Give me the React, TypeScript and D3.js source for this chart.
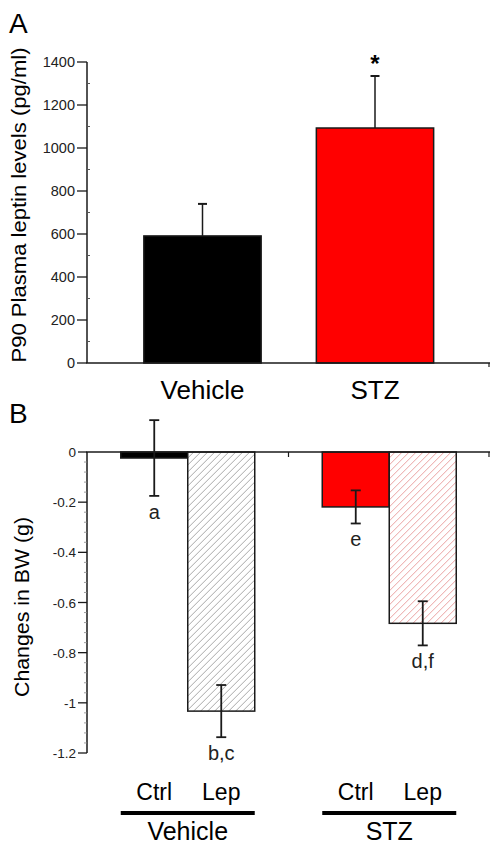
import React from "react";
import * as d3 from "d3";

// Panel A data
const groupsA = ["Vehicle", "STZ"];
const leptinMean = [591, 1093];
const leptinErr = [149, 242];
const leptinColors = ["#000000", "#ff0000"];
const yTicksA = [0, 200, 400, 600, 800, 1000, 1200, 1400];

// Panel B data
const groupsB = ["Vehicle", "STZ"];
const treatments = ["Ctrl", "Lep"];
const bwMean = [
  [-0.024, -1.033],
  [-0.219, -0.683],
];
const bwErr = [
  [0.151, 0.104],
  [0.066, 0.088],
];
const bwLetters = [
  ["a", "b,c"],
  ["e", "d,f"],
];
const yTicksB = [0, -0.2, -0.4, -0.6, -0.8, -1, -1.2];
const yTickLabelsB = ["0", "-0.2", "-0.4", "-0.6", "-0.8", "-1", "-1.2"];

const FONT = "'Liberation Sans', Arial, Helvetica, sans-serif";
const AX = "#1a1a1a";

export default function App() {
  const W = 490;
  const H = 846;
  const axisX = 87;
  const xEnd = 490;

  // Panel A scales
  const yA = d3.scaleLinear().domain([0, 1400]).range([363, 62]);
  const xA = d3
    .scaleBand<string>()
    .domain(groupsA)
    .range([116.25, 461.25])
    .paddingInner(0.32)
    .paddingOuter(0.16);
  const minorA = d3.range(100, 1400, 200);

  // Panel B scales
  const yB = d3.scaleLinear().domain([-1.2, 0]).range([753, 452]);
  const xB = d3
    .scaleBand<string>()
    .domain(groupsB)
    .range([axisX, xEnd])
    .paddingInner(0.335)
    .paddingOuter(0.1675);
  const xSub = d3
    .scaleBand<string>()
    .domain(treatments)
    .range([0, xB.bandwidth()]);
  const minorB = d3
    .range(0, 31)
    .map((i) => -i * 0.04)
    .filter((v) => Math.abs(Math.round(v / 0.2) * 0.2 - v) > 1e-6);

  const fills = [
    ["#000000", "url(#hatchGrey)"],
    ["#ff0000", "url(#hatchRed)"],
  ];

  return (
    <svg
      width={W}
      height={H}
      style={{ position: "absolute", left: 0, top: 0, background: "#fff" }}
      fontFamily={FONT}
    >
      <defs>
        <pattern id="hatchGrey" patternUnits="userSpaceOnUse" width={7} height={7}>
          <rect width={7} height={7} fill="#fff" />
          <path d="M0,7 L7,0 M-2,2 L2,-2 M5,9 L9,5" stroke="#a8a8a8" strokeWidth={1} />
        </pattern>
        <pattern id="hatchRed" patternUnits="userSpaceOnUse" width={7} height={7}>
          <rect width={7} height={7} fill="#fff" />
          <path d="M0,7 L7,0 M-2,2 L2,-2 M5,9 L9,5" stroke="#eaa2a2" strokeWidth={1} />
        </pattern>
      </defs>
      <rect width={W} height={H} fill="#fff" />

      {/* ===== Panel A ===== */}
      <text x={9} y={33} fontSize={28}>A</text>
      <text
        transform={`translate(26,205) rotate(-90)`}
        textAnchor="middle"
        fontSize={21}
        textLength={315}
        lengthAdjust="spacingAndGlyphs"
      >
        P90 Plasma leptin levels (pg/ml)
      </text>

      {/* bars */}
      {groupsA.map((g, i) => (
        <g key={g}>
          <line
            x1={xA(g)! + xA.bandwidth() / 2}
            x2={xA(g)! + xA.bandwidth() / 2}
            y1={yA(leptinMean[i])}
            y2={yA(leptinMean[i] + leptinErr[i])}
            stroke={AX}
            strokeWidth={1.5}
          />
          <line
            x1={xA(g)! + xA.bandwidth() / 2 - 4.5}
            x2={xA(g)! + xA.bandwidth() / 2 + 4.5}
            y1={yA(leptinMean[i] + leptinErr[i])}
            y2={yA(leptinMean[i] + leptinErr[i])}
            stroke={AX}
            strokeWidth={2}
          />
          <rect
            x={xA(g)!}
            y={yA(leptinMean[i])}
            width={xA.bandwidth()}
            height={yA(0) - yA(leptinMean[i])}
            fill={leptinColors[i]}
            stroke={AX}
            strokeWidth={1.5}
          />
          <text
            x={xA(g)! + xA.bandwidth() / 2}
            y={399}
            textAnchor="middle"
            fontSize={26}
          >
            {g}
          </text>
        </g>
      ))}
      <text
        x={xA("STZ")! + xA.bandwidth() / 2}
        y={72}
        textAnchor="middle"
        fontSize={24}
        fontWeight="bold"
      >
        *
      </text>

      {/* axes A */}
      <line x1={axisX} x2={axisX} y1={yA(1400)} y2={yA(0)} stroke={AX} strokeWidth={1.5} />
      <line x1={axisX - 0.75} x2={xEnd} y1={yA(0)} y2={yA(0)} stroke={AX} strokeWidth={1.5} />
      <line x1={xEnd - 1} x2={xEnd - 1} y1={yA(0)} y2={yA(0) + 4} stroke={AX} strokeWidth={1.2} />
      {yTicksA.map((t) => (
        <g key={t}>
          <line x1={axisX - 10} x2={axisX} y1={yA(t)} y2={yA(t)} stroke={AX} strokeWidth={1.3} />
          <text x={axisX - 12} y={yA(t) + 5} textAnchor="end" fontSize={14.5} fill="#222">
            {t}
          </text>
        </g>
      ))}
      {minorA.map((t) => (
        <line key={t} x1={axisX} x2={axisX + 3} y1={yA(t)} y2={yA(t)} stroke="#555" strokeWidth={1} />
      ))}

      {/* ===== Panel B ===== */}
      <text x={9} y={423} fontSize={28}>B</text>
      <text
        transform={`translate(29,607) rotate(-90)`}
        textAnchor="middle"
        fontSize={21}
        textLength={180}
        lengthAdjust="spacingAndGlyphs"
      >
        Changes in BW (g)
      </text>

      {groupsB.map((g, gi) => (
        <g key={g} transform={`translate(${xB(g)},0)`}>
          {treatments.map((t, ti) => {
            const m = bwMean[gi][ti];
            const e = bwErr[gi][ti];
            const cx = xSub(t)! + xSub.bandwidth() / 2;
            return (
              <g key={t}>
                <rect
                  x={xSub(t)!}
                  y={yB(0)}
                  width={xSub.bandwidth()}
                  height={yB(m) - yB(0)}
                  fill={fills[gi][ti]}
                  stroke={AX}
                  strokeWidth={1.5}
                />
                <line x1={cx} x2={cx} y1={yB(m + e)} y2={yB(m - e)} stroke={AX} strokeWidth={1.8} />
                <line x1={cx - 5} x2={cx + 5} y1={yB(m + e)} y2={yB(m + e)} stroke={AX} strokeWidth={1.8} />
                <line x1={cx - 5} x2={cx + 5} y1={yB(m - e)} y2={yB(m - e)} stroke={AX} strokeWidth={1.8} />
                <text x={cx} y={yB(m - e) + 23} textAnchor="middle" fontSize={20} fill="#222">
                  {bwLetters[gi][ti]}
                </text>
                <text x={cx} y={800} textAnchor="middle" fontSize={23}>
                  {t}
                </text>
              </g>
            );
          })}
          <line x1={0} x2={xB.bandwidth()} y1={813} y2={813} stroke="#000" strokeWidth={4} />
          <text x={xB.bandwidth() / 2} y={840} textAnchor="middle" fontSize={25}>
            {g}
          </text>
        </g>
      ))}

      {/* axes B */}
      <line x1={axisX} x2={axisX} y1={yB(0)} y2={yB(-1.2)} stroke={AX} strokeWidth={1.5} />
      <line x1={axisX - 0.75} x2={xEnd} y1={yB(0)} y2={yB(0)} stroke={AX} strokeWidth={1.5} />
      {[xB("STZ")! - xB.step() * xB.paddingInner() / 2, xEnd - 1].map((x, i) => (
        <line key={i} x1={x} x2={x} y1={yB(0)} y2={yB(0) + 5} stroke={AX} strokeWidth={1.2} />
      ))}
      {yTicksB.map((t, i) => (
        <g key={t}>
          <line x1={axisX - 9} x2={axisX} y1={yB(t)} y2={yB(t)} stroke={AX} strokeWidth={1.3} />
          <text x={axisX - 11} y={yB(t) + 5} textAnchor="end" fontSize={13.5} fill="#222">
            {yTickLabelsB[i]}
          </text>
        </g>
      ))}
      {minorB.map((t) => (
        <line key={t} x1={axisX - 3} x2={axisX} y1={yB(t)} y2={yB(t)} stroke="#888" strokeWidth={0.8} />
      ))}
    </svg>
  );
}
